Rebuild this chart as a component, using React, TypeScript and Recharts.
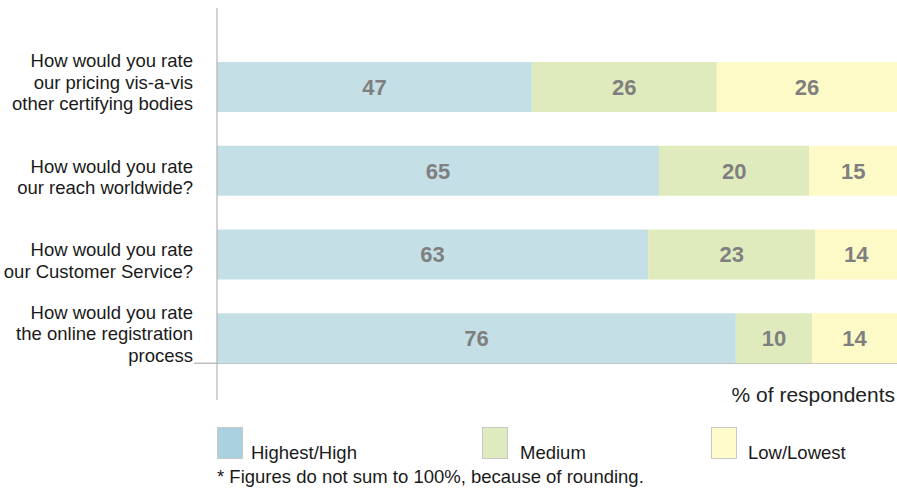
import React from 'react';
import { BarChart, Bar, XAxis, YAxis, LabelList } from 'recharts';

const categories = [
  'How would you rate\nour pricing vis-a-vis\nother certifying bodies',
  'How would you rate\nour reach worldwide?',
  'How would you rate\nour Customer Service?',
  'How would you rate\nthe online registration\nprocess',
];
const highValues = [46.3, 65.0, 63.4, 76.3];
const mediumValues = [27.2, 22.1, 24.6, 11.2];
const lowValues = [26.5, 12.9, 12.0, 12.5];
const highLabels = [47, 65, 63, 76];
const mediumLabels = [26, 20, 23, 10];
const lowLabels = [26, 15, 14, 14];
const seriesNames = ['Highest/High', 'Medium', 'Low/Lowest'];
const seriesKeys = ['high', 'medium', 'low'];
const barColors = ['#C5DFE6', '#E0EBBD', '#FEFAC8'];
const legendColors = ['#A9D1DF', '#DEEBBF', '#FFFBCB'];
const xTicks = [0, 100];

const data = categories.map((name, i) => ({
  name,
  high: highValues[i],
  medium: mediumValues[i],
  low: lowValues[i],
  highLabel: highLabels[i],
  mediumLabel: mediumLabels[i],
  lowLabel: lowLabels[i],
}));

const W = 897;
const H = 488;
const FONT = '"Liberation Sans", Arial, Helvetica, sans-serif';
const MARGIN = { top: 8, right: 0, bottom: 88, left: 17 };
const Y_AXIS_W = 200;
const PAD = { top: 37, bottom: 20 };
const BAR_SIZE = 50;
const PLOT_LEFT = MARGIN.left + Y_AXIS_W;
const BAND = (H - MARGIN.top - MARGIN.bottom - PAD.top - PAD.bottom) / categories.length;
const BASE_LINE_Y = MARGIN.top + PAD.top + BAND * (categories.length - 0.5) + BAR_SIZE / 2;

const CategoryTick = (props: any) => {
  const { x, y, payload } = props;
  const lines = String(payload.value).split('\n');
  const n = lines.length;
  return (
    <g>
      {lines.map((ln, i) => (
        <text
          key={i}
          x={x}
          y={y + 17 - (n - 1 - i) * 21.5}
          textAnchor="end"
          dominantBaseline="central"
          fontFamily={FONT}
          fontSize={18.5}
          fill="#1a1a1a"
        >
          {ln}
        </text>
      ))}
    </g>
  );
};

export default function App() {
  return (
    <div style={{ position: 'absolute', left: 0, top: 0, width: W, height: H, background: '#fff', fontFamily: FONT }}>
      <BarChart
        width={W}
        height={H}
        data={data}
        layout="vertical"
        margin={MARGIN}
        barCategoryGap={0}
      >
        <XAxis type="number" domain={[0, 100]} ticks={xTicks} hide />
        <YAxis
          type="category"
          dataKey="name"
          width={Y_AXIS_W}
          padding={PAD}
          axisLine={{ stroke: '#a6a6a6', strokeWidth: 1 }}
          tickLine={false}
          tickSize={0}
          tickMargin={24}
          interval={0}
          tick={<CategoryTick />}
        />
        {seriesKeys.map((k, i) => (
          <Bar
            key={k}
            dataKey={k}
            name={seriesNames[i]}
            stackId="a"
            fill={barColors[i]}
            barSize={BAR_SIZE}
            isAnimationActive={false}
          >
            <LabelList
              dataKey={`${k}Label`}
              position="center"
              fill="#7f7f7f"
              fontFamily={FONT}
              fontSize={22}
              fontWeight="bold"
            />
          </Bar>
        ))}
        <line x1={PLOT_LEFT - 23} x2={W} y1={BASE_LINE_Y} y2={BASE_LINE_Y} stroke="#bdbdbd" strokeWidth={1.5} />
      </BarChart>
      <div
        style={{
          position: 'absolute',
          right: 2,
          top: 383,
          fontSize: 21,
          lineHeight: '24px',
          color: '#222',
        }}
      >
        % of respondents
      </div>
      {seriesNames.map((s, i) => {
        const left = [217, 482, 711][i];
        const gap = [8, 12, 11][i];
        return (
          <React.Fragment key={s}>
            <div
              style={{
                position: 'absolute',
                left,
                top: 427,
                width: 24,
                height: 30,
                background: legendColors[i],
                border: '1px solid #c8c8c8',
              }}
            />
            <div
              style={{
                position: 'absolute',
                left: left + 26 + gap,
                top: 442,
                fontSize: 18.5,
                lineHeight: '22px',
                color: '#1a1a1a',
                whiteSpace: 'nowrap',
              }}
            >
              {s}
            </div>
          </React.Fragment>
        );
      })}
      <div
        style={{
          position: 'absolute',
          left: 217,
          top: 466,
          fontSize: 18.5,
          lineHeight: '22px',
          color: '#1a1a1a',
          whiteSpace: 'nowrap',
        }}
      >
        * Figures do not sum to 100%, because of rounding.
      </div>
    </div>
  );
}
